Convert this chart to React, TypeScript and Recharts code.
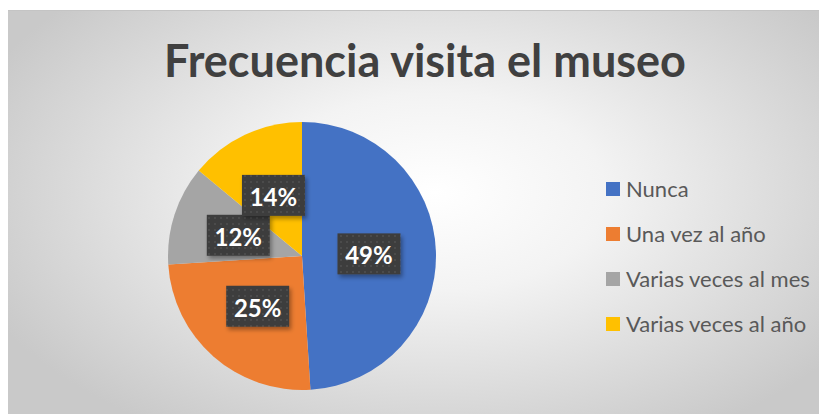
import { PieChart, Pie, Cell } from 'recharts'

const categories = ['Nunca', 'Una vez al año', 'Varias veces al mes', 'Varias veces al año']
const values = [49, 25, 12, 14]
const colors = ['#4472C4', '#ED7D31', '#A5A5A5', '#FFC000']
const title = 'Frecuencia visita el museo'

const data = categories.map((name, i) => ({ name, value: values[i] }))

const RAD = Math.PI / 180

const renderLabel = ({ cx, cy, midAngle, outerRadius, value, index }: any) => {
  const r = outerRadius * 0.5
  const x = cx + r * Math.cos(-midAngle * RAD)
  const y = cy + r * Math.sin(-midAngle * RAD)
  const w = 63
  const h = 41
  const pid = `dots-${index}`
  return (
    <g>
      <defs>
        <pattern id={pid} width="6" height="6" patternUnits="userSpaceOnUse">
          <rect width="6" height="6" fill="#3d3d3d" />
          <circle cx="3" cy="3" r="1.1" fill="#4f4f4f" />
        </pattern>
        <filter id={`sh-${index}`} x="-20%" y="-20%" width="150%" height="160%">
          <feDropShadow dx="2" dy="3" stdDeviation="2" floodColor="#000" floodOpacity="0.35" />
        </filter>
      </defs>
      <rect x={x - w / 2} y={y - h / 2} width={w} height={h} fill={`url(#${pid})`} filter={`url(#sh-${index})`} />
      <text
        x={x}
        y={y + 1}
        textAnchor="middle"
        dominantBaseline="central"
        fill="#ffffff"
        fontFamily="Lato, sans-serif"
        fontWeight={700}
        fontSize={24}
      >
        {value}%
      </text>
    </g>
  )
}

export default function App() {
  return (
    <div
      style={{
        position: 'relative',
        marginTop: 2,
        width: 819,
        height: 404,
        borderTop: '1px solid #c4c4c4',
        boxSizing: 'border-box',
        background: 'radial-gradient(ellipse 60% 70% at 52% 45%, #ffffff 0%, #f3f3f3 35%, #d9d9d9 75%, #c9c9c9 100%)',
      }}
    >
      <div
        style={{
          position: 'absolute',
          left: 0,
          width: 834,
          top: 22,
          textAlign: 'center',
          fontFamily: 'Lato, sans-serif',
          fontWeight: 700,
          fontSize: 45,
          color: '#404040',
        }}
      >
        {title}
      </div>
      <PieChart width={819} height={403} style={{ position: 'absolute', left: 0, top: 0 }}>
        <Pie
          data={data}
          dataKey="value"
          nameKey="name"
          cx={289}
          cy={240}
          outerRadius={134}
          startAngle={90}
          endAngle={-270}
          stroke="none"
          label={renderLabel}
          labelLine={false}
          isAnimationActive={false}
        >
          {data.map((d, i) => (
            <Cell key={d.name} fill={colors[i]} />
          ))}
        </Pie>
      </PieChart>
      <div style={{ position: 'absolute', left: 598, top: 155, fontFamily: 'Lato, sans-serif' }}>
        {categories.map((c, i) => (
          <div key={c} style={{ display: 'flex', alignItems: 'center', height: 45 }}>
            <span style={{ display: 'inline-block', width: 14, height: 14, background: colors[i], marginRight: 6 }} />
            <span style={{ fontSize: 22, color: '#595959' }}>{c}</span>
          </div>
        ))}
      </div>
    </div>
  )
}
